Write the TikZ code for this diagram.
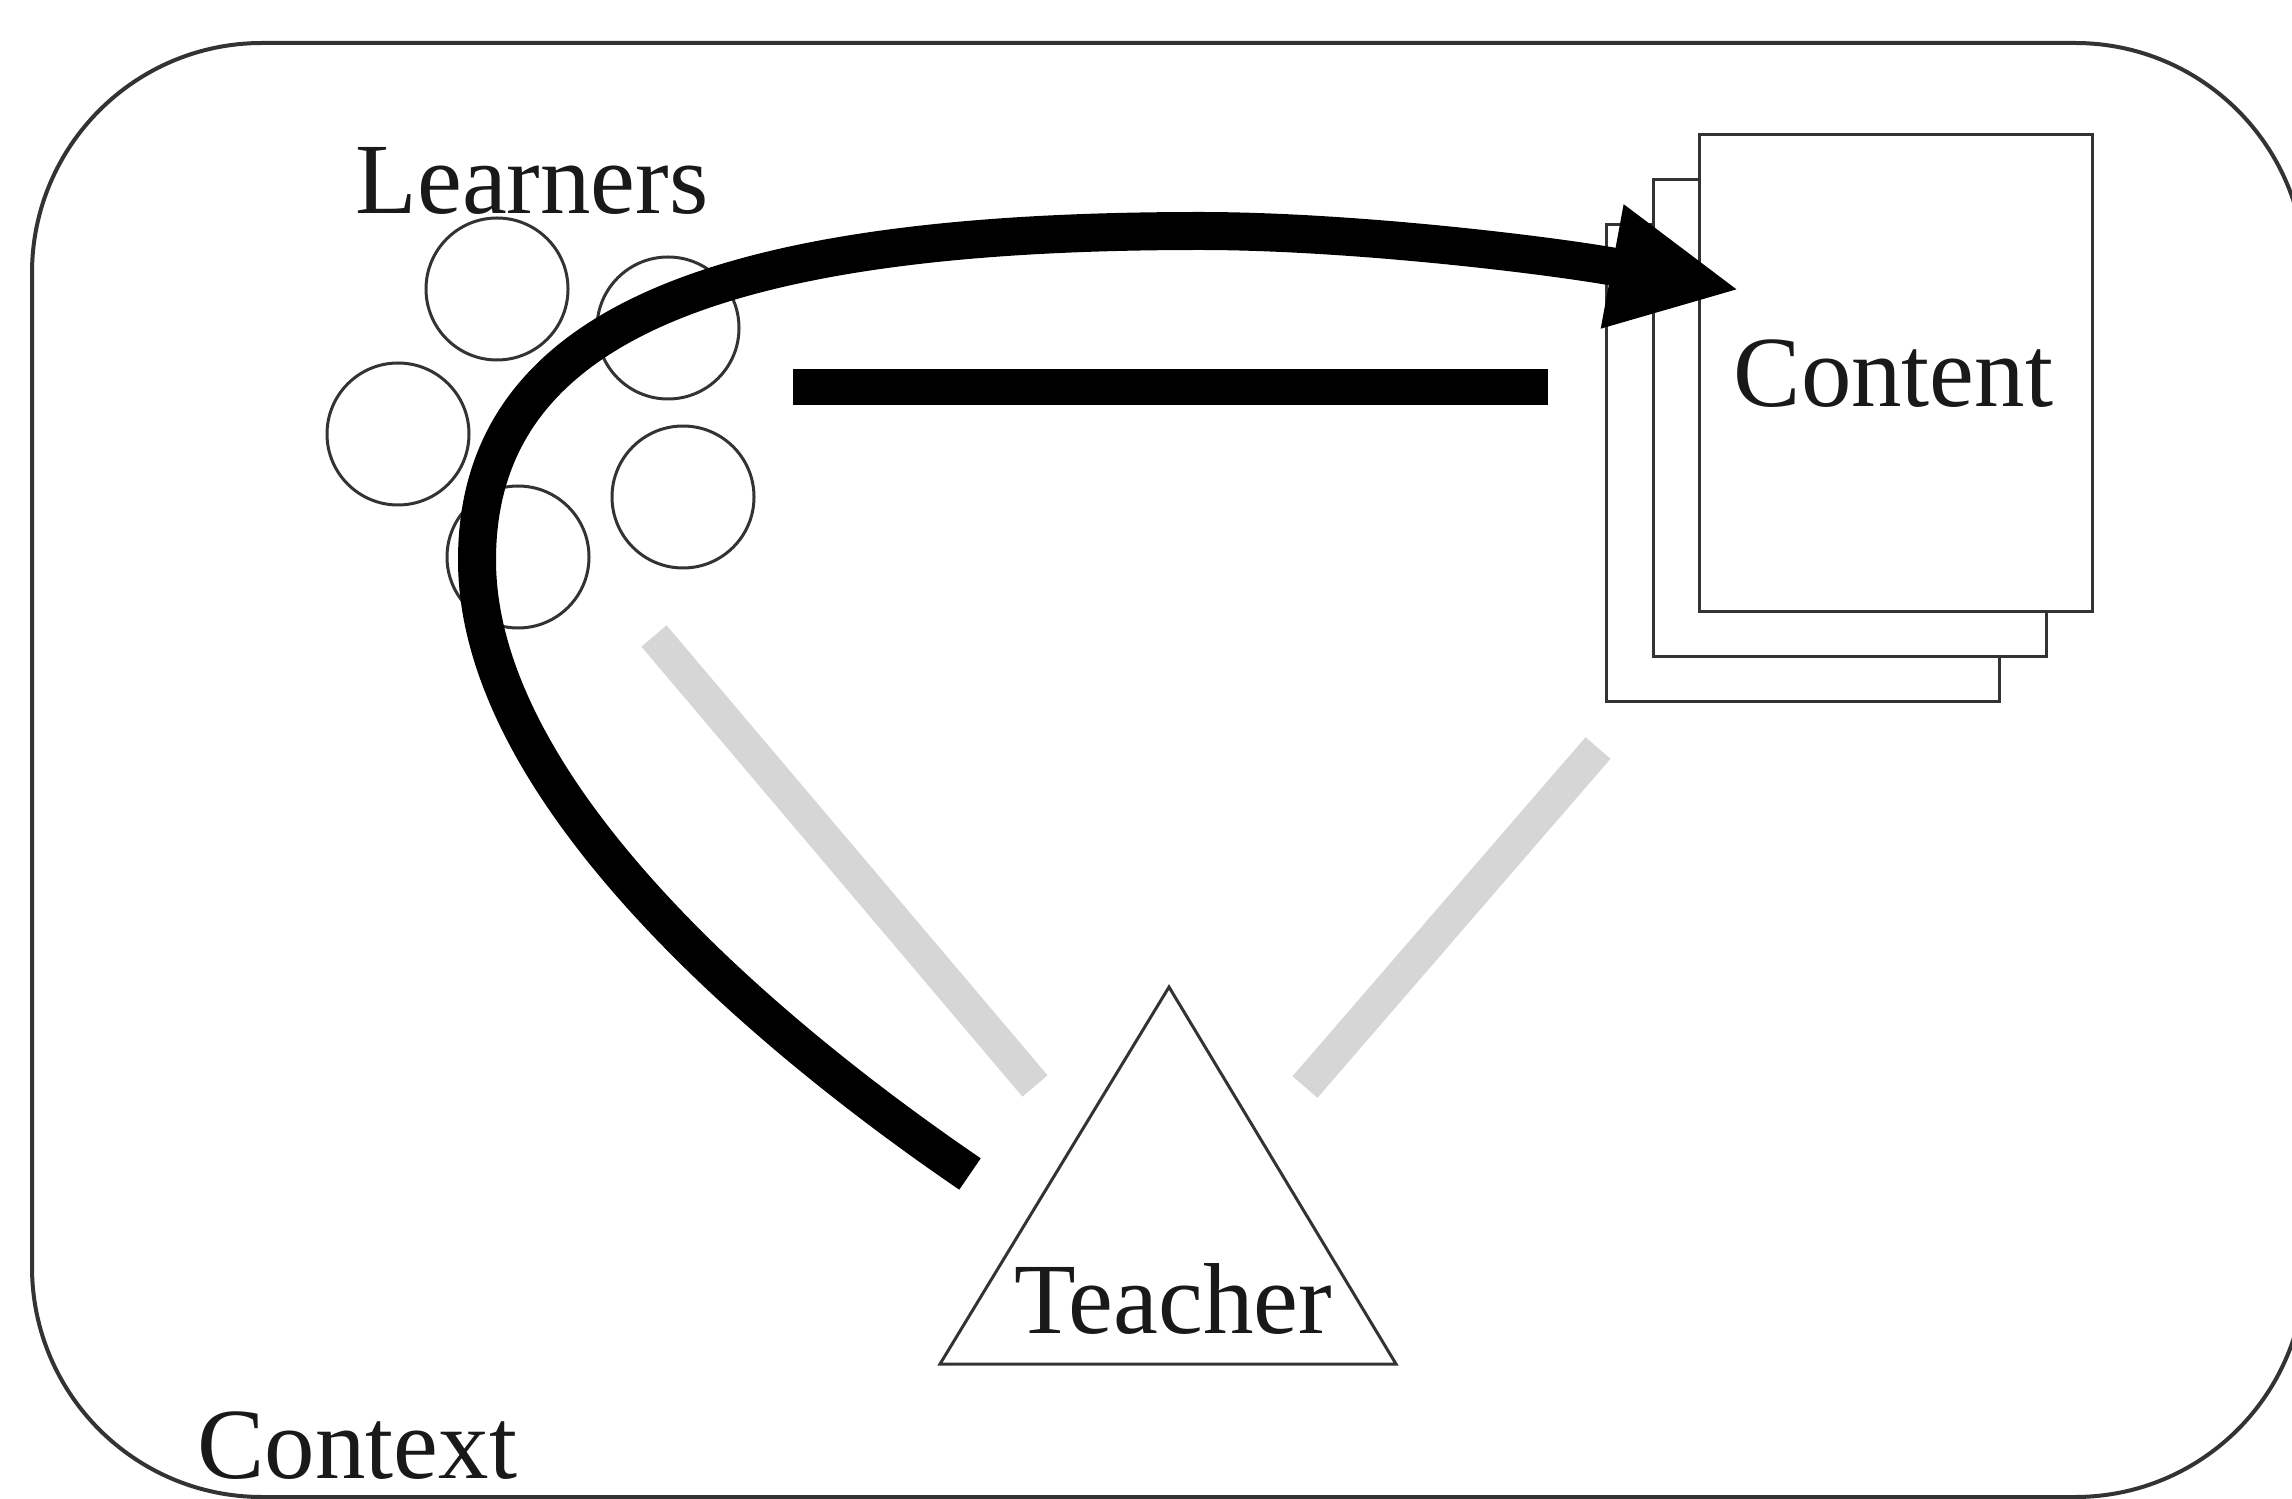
\documentclass[tikz,border=0pt]{standalone}
\usepackage{fontspec}
\setmainfont{Liberation Serif}
\usetikzlibrary{arrows.meta}
\begin{document}
\begin{tikzpicture}[yscale=-1, font=\fontsize{28.7}{34}\selectfont,
        learner/.style={circle, draw=black!80, line width=0.3mm, minimum size=1.42cm, inner sep=0pt},
        sheet/.style={rectangle, draw=black!80, fill=white, line width=0.3mm, minimum width=3.93cm, minimum height=4.77cm, inner sep=0pt},
        tag/.style={anchor=base west, inner sep=0pt, text=black!90},
        relation/.style={black!16, line width=3.3mm},
        flowline/.style={line width=3.8mm, -{Triangle[length=13mm, width=11.6mm]}}]
    \useasboundingbox (0,0) rectangle (22.92,14.99);
    \draw[black!80, line width=0.4mm, rounded corners=2.3cm] (0.32,0.43) rectangle (23.05,14.97);
    \node[tag] (context) at (1.97,14.78) {Context};
    % learners
    \node[tag] (learners) at (3.55,2.14) {Learners};
    \node[learner] (l1) at (4.97,2.89) {};
    \node[learner] (l2) at (6.68,3.28) {};
    \node[learner] (l3) at (3.98,4.34) {};
    \node[learner] (l4) at (6.83,4.97) {};
    \node[learner] (l5) at (5.18,5.57) {};
    % content
    \node[sheet] (s3) at (18.03,4.63) {};
    \node[sheet] (s2) at (18.50,4.18) {};
    \node[sheet] (s1) at (18.96,3.73) {};
    \node[tag] (content) at (17.33,4.07) {Content};
    % teacher
    \draw[black!80, line width=0.3mm] (11.69,9.87) -- (13.96,13.64) -- (9.40,13.64) -- cycle;
    \node[anchor=base, inner sep=0pt, text=black!90] (teacher) at (11.73,13.33) {Teacher};
    % relations
    \coordinate (lt1) at (6.54,6.36);
    \coordinate (lt2) at (10.35,10.86);
    \coordinate (ct1) at (15.98,7.48);
    \coordinate (ct2) at (13.05,10.87);
    \draw[relation] (lt1) -- (lt2);
    \draw[relation] (ct1) -- (ct2);
    \coordinate (lc1) at (7.93,3.87);
    \coordinate (lc2) at (15.48,3.87);
    \draw[line width=3.6mm] (lc1) -- (lc2);
    % teacher -> learners -> content
    \coordinate (start) at (9.70,11.74);
    \coordinate (turn) at (4.77,5.60);
    \coordinate (top) at (12.00,2.31);
    \coordinate (tip) at (17.40,2.90);
    \draw[flowline] (start) .. controls (7.62,10.32) and (4.77,7.90) .. (turn)
        .. controls (4.77,3.20) and (7.30,2.31) .. (top)
        .. controls (13.50,2.31) and (15.50,2.55) .. (tip);
\end{tikzpicture}
\end{document}
